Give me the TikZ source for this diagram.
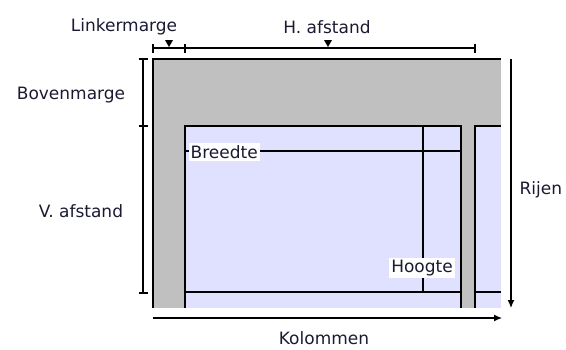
\documentclass[tikz,border=0pt]{standalone}
\usepackage{fontspec}
\setmainfont{DejaVu Sans}
\usetikzlibrary{arrows.meta}
\definecolor{marginGray}{HTML}{C0C0C0}
\definecolor{cellBlue}{HTML}{E0E0FF}
\definecolor{txt}{HTML}{1A1A33}
\begin{document}
\begin{tikzpicture}[x=1pt,y=-1pt,line width=1.2pt,
  lbl/.style={font=\fontsize{17}{20}\selectfont,text=txt,inner sep=1pt},
  boxlbl/.style={lbl,fill=white,inner sep=2pt},
  tick/.style={line width=1.2pt},
  marker/.style={fill=black},
  arr/.style={-{Latex[length=8pt,width=7pt]}}]
\useasboundingbox (0,0) rectangle (566,349);
% fills
\fill[marginGray] (153,59) rectangle (501,308);
\fill[cellBlue] (185,126) rectangle (461,308);
\fill[cellBlue] (475,126) rectangle (501,308);
% page and cell lines
\draw (153,308) -- (153,59) -- (501,59);
\draw (185,308) -- (185,126) -- (461,126) -- (461,308);
\draw (475,308) -- (475,126) -- (501,126);
\draw (423,126) -- (423,292);
\draw[line width=2.4pt] (185,292) -- (461,292);
\draw[line width=2.4pt] (475,292) -- (501,292);
% labels
\node[lbl] (lm) at (124,27) {Linkermarge};
\node[lbl] (ha) at (327,27) {H. afstand};
\node[lbl] (bm) at (71,95) {Bovenmarge};
\node[lbl] (va) at (81,211) {V. afstand};
\node[lbl,anchor=west] (rij) at (518,190) {Rijen};
\node[lbl] (kol) at (324,338) {Kolommen};
\coordinate (bL) at (185,151);
\coordinate (bR) at (461,151);
\draw (bL) -- (bR);
\node[boxlbl,anchor=west] (br) at (188,152) {Breedte};
\node[boxlbl] (hg) at (422,268) {Hoogte};
% top dimension line
\coordinate (t1) at (153,48);
\coordinate (t2) at (185,48);
\coordinate (t3) at (475,48);
\draw (t1) -- (t3);
\foreach \c in {t1,t2,t3} \draw[tick] ([yshift=-4.5pt]\c) -- ([yshift=4.5pt]\c);
\fill[marker] (165,40) -- (173,40) -- (169,47) -- cycle;
\fill[marker] (324,40) -- (332,40) -- (328,47) -- cycle;
% left dimension line
\coordinate (l1) at (143,59);
\coordinate (l2) at (143,126);
\coordinate (l3) at (143,293);
\draw (l1) -- (l3);
\foreach \c in {l1,l2,l3} \draw[tick] ([xshift=-4.5pt]\c) -- ([xshift=4.5pt]\c);
% arrows
\coordinate (r1) at (511,59);
\coordinate (r2) at (511,308);
\draw[arr] (r1) -- (r2);
\coordinate (k1) at (153,318);
\coordinate (k2) at (502,318);
\draw[arr] (k1) -- (k2);
\end{tikzpicture}
\end{document}
